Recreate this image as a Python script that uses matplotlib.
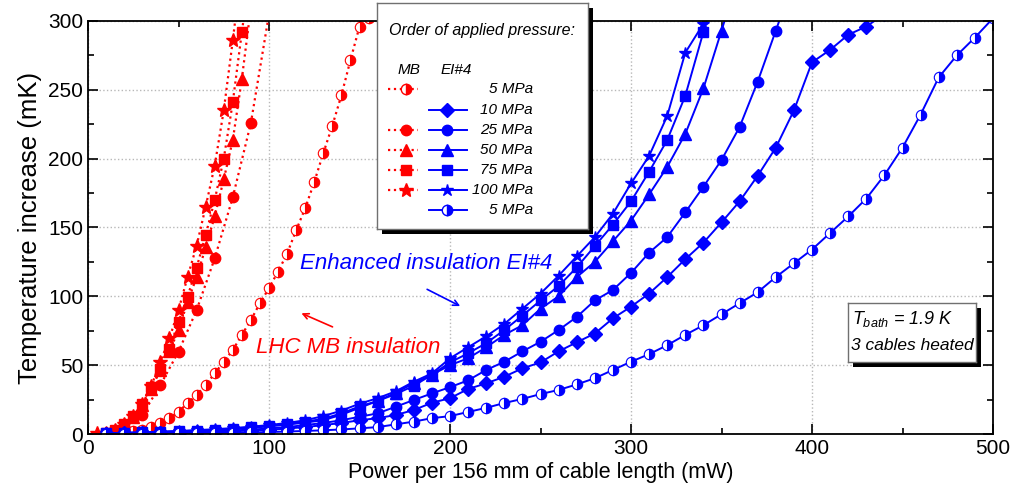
import matplotlib
matplotlib.use("Agg")
import matplotlib.pyplot as plt
from matplotlib.patches import Rectangle

plt.rcParams['font.family'] = ['Liberation Sans', 'DejaVu Sans']
plt.rcParams['mathtext.fontset'] = 'custom'
plt.rcParams['mathtext.it'] = 'Liberation Sans:italic'
plt.rcParams['mathtext.rm'] = 'Liberation Sans'

RED = '#ff0000'
BLUE = '#0000ff'

# ---- LHC MB insulation (red, dotted) ----
mb5_p = [10, 15, 20, 25, 30, 35, 40, 45, 50, 55, 60, 65, 70, 75, 80, 85, 90, 95, 100,
         105, 110, 115, 120, 125, 130, 135, 140, 145, 150, 155]
mb5_t = [0.3, 0.7, 1.2, 2, 2.9, 5.3, 7.8, 11.4, 16.2, 22.3, 28.3, 35.6, 44, 52.5, 61, 72, 82.8, 95, 106,
         118, 131, 148, 164, 183, 204, 224, 246, 271.6, 296, 302]
mb25_p = [10, 20, 30, 40, 50, 60, 70, 80, 90, 100]
mb25_t = [1, 5, 13.8, 35.6, 59.8, 90, 127.6, 172, 226, 305]
mb50_p = [10, 15, 20, 25, 30, 35, 40, 45, 50, 55, 60, 65, 70, 75, 80, 85, 90]
mb50_t = [1, 3, 7, 12, 21, 33, 46.5, 60, 75.5, 96, 113.8, 135.6, 158, 185, 213.5, 258, 310]
mb75_p = [10, 15, 20, 25, 30, 35, 40, 45, 50, 55, 60, 65, 70, 75, 80, 85, 90]
mb75_t = [1, 3, 7, 13, 22, 34, 47, 62, 81.6, 99.7, 120.8, 144.5, 170, 200, 241, 292, 340]
mb100_p = [5, 10, 15, 20, 25, 30, 35, 40, 45, 50, 55, 60, 65, 70, 75, 80, 85]
mb100_t = [0.5, 1, 3, 7, 13, 22, 35, 52.5, 69.5, 90, 114, 136.7, 165, 195, 235, 286, 340]

# ---- Enhanced insulation EI#4 (blue, solid) ----
ei10_p = list(range(10, 450, 10))
ei10_t = [0.2, 0.4, 0.6, 0.8, 1, 1.3, 1.6, 2, 2.5, 3, 4, 5, 6.5, 8, 10, 11.5, 13.8, 17.4, 22.7, 26,
          32.7, 36.8, 41.6, 47.7, 52, 60, 66.6, 73, 84, 92.5, 102, 114, 127, 139, 153.7, 169, 187.6,
          208, 235, 270, 279, 290, 296, 305]
ei25_p = list(range(10, 400, 10))
ei25_t = [0.3, 0.5, 0.8, 1, 1.3, 1.7, 2.1, 2.6, 3.2, 4, 5, 6.5, 8, 10, 12.5, 15, 19.8, 24.7, 29.5, 34,
          39, 46.5, 52.5, 60, 67, 75.5, 85, 97, 104.6, 117, 131.7, 143, 161, 179.6, 199, 223, 256, 293, 330]
ei50_p = list(range(10, 370, 10))
ei50_t = [0.4, 0.7, 1, 1.4, 1.8, 2.3, 2.9, 3.6, 4.5, 5.5, 6.8, 8.3, 10, 14, 19, 24, 30, 36.8, 43, 50,
          55, 63, 72, 79, 91, 100, 114, 125, 140, 155, 174, 194, 218, 251, 293, 335]
ei75_p = list(range(10, 360, 10))
ei75_t = [0.4, 0.8, 1.1, 1.5, 2, 2.5, 3.1, 3.9, 4.8, 6, 7.3, 9, 11, 15, 20, 24, 29, 35, 43, 52,
          58.6, 66, 75.5, 86, 97, 107.5, 121, 136.5, 152, 169, 190.5, 213.5, 245.7, 292, 340]
ei100_p = list(range(10, 360, 10))
ei100_t = [0.5, 0.9, 1.3, 1.7, 2.2, 2.8, 3.5, 4.3, 5.3, 6.5, 8, 10, 13, 17, 22, 26, 31, 38, 44, 55,
           63, 71, 80, 91, 102, 115, 129, 143, 160, 182, 202, 231, 277, 298, 330]
ei5_p = list(range(10, 510, 10))
ei5_t = [0, 0.1, 0.2, 0.3, 0.4, 0.5, 0.7, 0.9, 1.1, 1.4, 1.8, 2.2, 2.7, 3.3, 4.1, 5, 7, 9, 11.5, 13,
         16, 19, 22.5, 25.5, 29, 32, 36, 40.5, 46.5, 52.5, 58, 64.5, 72, 79, 87, 95, 103, 114, 124, 134,
         146, 158, 171, 188, 208, 232, 259, 275, 288, 302]

fig = plt.figure(figsize=(10.19, 4.92), dpi=100)
ax = fig.add_axes([88 / 1019, 1 - 434 / 492, 905 / 1019, 413 / 492])

half = dict(fillstyle='right', markerfacecoloralt='white')

# red MB curves
ax.plot(mb5_p, mb5_t, ':', color=RED, lw=1.6, marker='o', ms=7.5, mec=RED, mfc=RED, mew=0.8, **half)
ax.plot(mb25_p, mb25_t, ':', color=RED, lw=1.6, marker='o', ms=7.5, mec=RED, mfc=RED)
ax.plot(mb50_p, mb50_t, ':', color=RED, lw=1.6, marker='^', ms=8.5, mec=RED, mfc=RED)
ax.plot(mb75_p, mb75_t, ':', color=RED, lw=1.6, marker='s', ms=7, mec=RED, mfc=RED)
ax.plot(mb100_p, mb100_t, ':', color=RED, lw=1.6, marker='*', ms=10, mec=RED, mfc=RED)

# blue EI#4 curves
ax.plot(ei10_p, ei10_t, '-', color=BLUE, lw=1.4, marker='D', ms=7, mec=BLUE, mfc=BLUE)
ax.plot(ei25_p, ei25_t, '-', color=BLUE, lw=1.4, marker='o', ms=7.5, mec=BLUE, mfc=BLUE)
ax.plot(ei50_p, ei50_t, '-', color=BLUE, lw=1.4, marker='^', ms=8, mec=BLUE, mfc=BLUE)
ax.plot(ei75_p, ei75_t, '-', color=BLUE, lw=1.4, marker='s', ms=6.5, mec=BLUE, mfc=BLUE)
ax.plot(ei100_p, ei100_t, '-', color=BLUE, lw=1.4, marker='*', ms=9, mec=BLUE, mfc=BLUE)
ax.plot(ei5_p, ei5_t, '-', color=BLUE, lw=1.4, marker='o', ms=7.5, mec=BLUE, mfc=BLUE, mew=0.8, **half)

ax.set_xlim(0, 500)
ax.set_ylim(0, 300)
ax.set_xticks(range(0, 501, 100))
ax.set_xticks(range(0, 501, 50), minor=True)
ax.set_yticks(range(0, 301, 50))
ax.set_yticks(range(0, 301, 25), minor=True)
ax.grid(True, which='major', linestyle=':', color='#b8b8b8', lw=1)
ax.tick_params(which='both', direction='in', top=True, right=True, width=1.2)
ax.tick_params(which='major', length=7, labelsize=15)
ax.tick_params(which='minor', length=4)
for s in ax.spines.values():
    s.set_linewidth(1.3)
ax.set_xlabel('Power per 156 mm of cable length (mW)', fontsize=15.5, labelpad=3)
ax.set_ylabel('Temperature increase (mK)', fontsize=18.5, labelpad=4)

# annotations
ax.text(117, 124, 'Enhanced insulation EI#4', color=BLUE, fontsize=16, style='italic',
        ha='left', va='center')
ax.annotate('', xy=(207, 92), xytext=(186, 106),
            arrowprops=dict(arrowstyle='->', color=BLUE, lw=1.2))
ax.text(93, 63, 'LHC MB insulation', color=RED, fontsize=16, style='italic',
        ha='left', va='center')
ax.annotate('', xy=(116.5, 88.5), xytext=(136.5, 77),
            arrowprops=dict(arrowstyle='->', color=RED, lw=1.2))

# legend box (drawn by hand, with shadow)
W, H = 1019, 492
lx0, lx1, ly0, ly1 = 377, 588, 3, 229
fig.add_artist(Rectangle(((lx0 + 5) / W, 1 - (ly1 + 5) / H), (lx1 - lx0) / W, (ly1 - ly0) / H,
                         transform=fig.transFigure, facecolor='black', edgecolor='none', zorder=5))
lax = fig.add_axes([lx0 / W, 1 - ly1 / H, (lx1 - lx0) / W, (ly1 - ly0) / H], zorder=10)
lax.set_xlim(lx0, lx1)
lax.set_ylim(ly1, ly0)
lax.set_xticks([])
lax.set_yticks([])
for s in lax.spines.values():
    s.set_color('#707070')
    s.set_linewidth(1)

lax.text(389, 31, 'Order of applied pressure:', fontsize=11.5, style='italic', va='center', ha='left')
lax.text(409, 70, 'MB', fontsize=11, style='italic', va='center', ha='center')
lax.text(456, 70, 'EI#4', fontsize=11, style='italic', va='center', ha='center')

leg_labels = ['5 MPa', '10 MPa', '25 MPa', '50 MPa', '75 MPa', '100 MPa', '5 MPa']
leg_red = [('o', 7.5, True), None, ('o', 7.5, False), ('^', 8.5, False), ('s', 7, False), ('*', 10, False), None]
leg_blue = [None, ('D', 7, False), ('o', 7.5, False), ('^', 8, False), ('s', 6.5, False), ('*', 9, False),
            ('o', 7.5, True)]
rows_y = [89, 110, 130, 150, 170, 190, 210]
for y, lab, r, b in zip(rows_y, leg_labels, leg_red, leg_blue):
    lax.text(533, y, lab, fontsize=11, style='italic', ha='right', va='center')
    if r:
        m, ms, hf = r
        lax.plot([388, 418], [y, y], ':', color=RED, lw=1.6)
        kw = half if hf else {}
        lax.plot([406], [y], marker=m, ms=ms, color=RED, mec=RED, mfc=RED, ls='none', **kw)
    if b:
        m, ms, hf = b
        lax.plot([429, 467], [y, y], '-', color=BLUE, lw=1.4)
        kw = half if hf else {}
        lax.plot([447], [y], marker=m, ms=ms, color=BLUE, mec=BLUE, mfc=BLUE, ls='none', **kw)

# T_bath box
bx0, bx1, by0, by1 = 848, 976, 303, 362
fig.add_artist(Rectangle(((bx0 + 5) / W, 1 - (by1 + 5) / H), (bx1 - bx0) / W, (by1 - by0) / H,
                         transform=fig.transFigure, facecolor='black', edgecolor='none', zorder=5))
bax = fig.add_axes([bx0 / W, 1 - by1 / H, (bx1 - bx0) / W, (by1 - by0) / H], zorder=10)
bax.set_xlim(bx0, bx1)
bax.set_ylim(by1, by0)
bax.set_xticks([])
bax.set_yticks([])
for s in bax.spines.values():
    s.set_color('#707070')
    s.set_linewidth(1)
bax.text(852, 319, r'$T_{bath}$ = 1.9 K', fontsize=13, style='italic', ha='left', va='center')
bax.text(851, 346, '3 cables heated', fontsize=12.5, style='italic', ha='left', va='center')

fig.savefig('out.png', dpi=100)
